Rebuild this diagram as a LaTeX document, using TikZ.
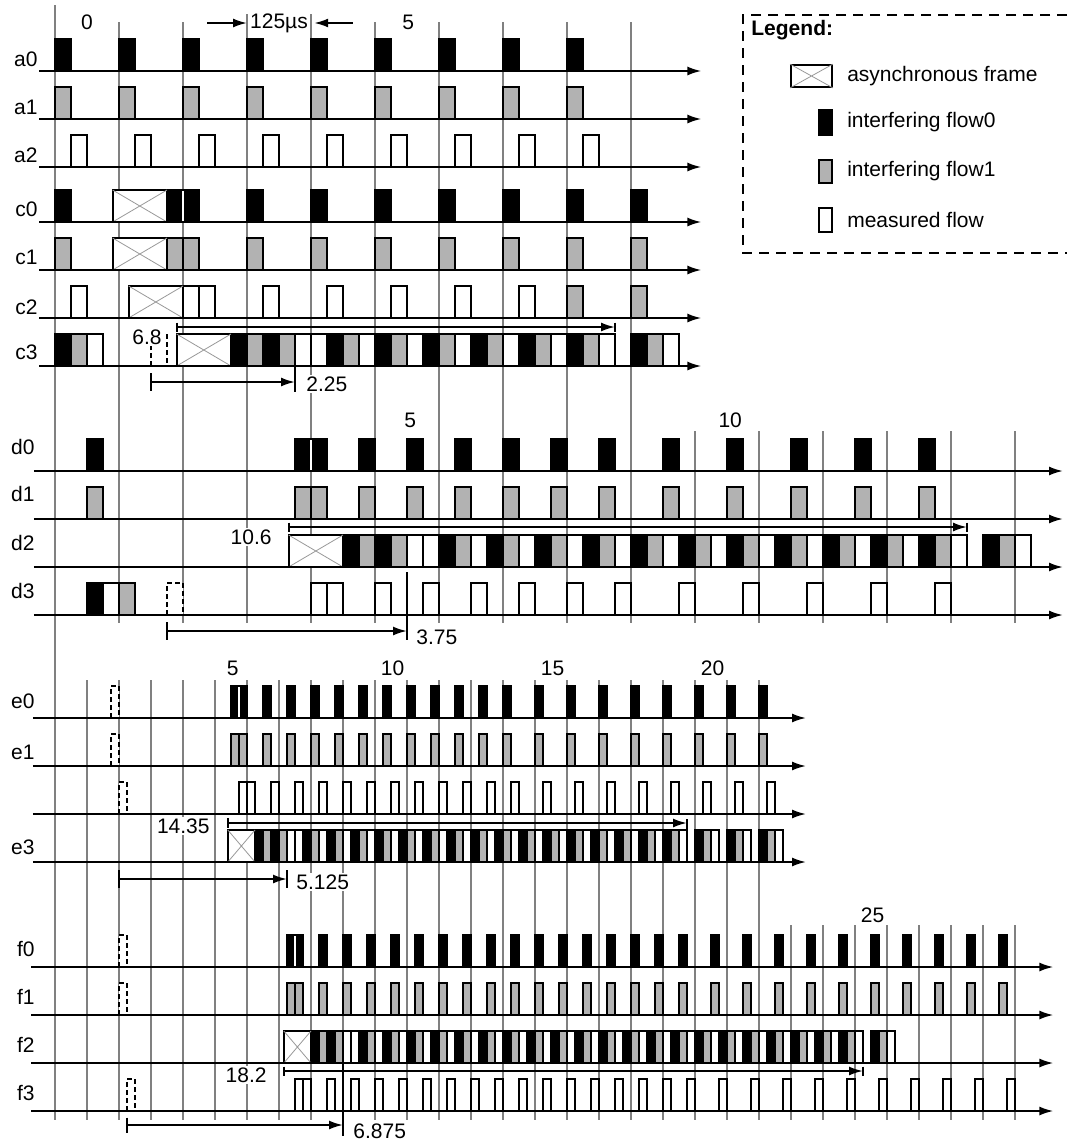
\documentclass[tikz,border=0pt]{standalone}
\usepackage{fontspec}
\setmainfont{Liberation Sans}
\usepackage{tikz}
\usetikzlibrary{arrows.meta,positioning}

\begin{document}
\begin{tikzpicture}[x=0.5pt, y=-0.5pt, font=\fontsize{10.5}{12.6}\selectfont,
    >={Latex[length=7pt,width=4.5pt]},
    grid/.style={draw=black!50, line width=0.8pt},
    axis/.style={->, line width=1pt},
    fzero/.style={draw=black, fill=black, line width=0.9pt},
    fone/.style={draw=black, fill=black!30, line width=0.9pt},
    fmeas/.style={draw=black, fill=white, line width=0.9pt},
    ghost/.style={draw=black, fill=white, line width=0.9pt,
                  dash pattern=on 2.5pt off 1.5pt},
    async/.style={draw=black, fill=white, line width=0.9pt},
    xline/.style={draw=black!40, line width=0.4pt},
    split/.style={draw=white, line width=0.6pt},
    dim/.style={line width=1pt},
    rowlbl/.style={anchor=east, inner sep=0pt},
    numlbl/.style={inner sep=0pt},
    dimlbl/.style={fill=white, inner sep=1pt}]

  \useasboundingbox (0,0) rectangle (1067,1141);

  % cycle 0 runs through all four parts
  \draw[grid] (55,5) -- (55,1120);

  % ---- parts a, c, d: one cycle = 32pt
  \begin{scope}[xshift=27.5pt, x=32pt]
    \foreach \t in {1,2,5,6,...,9} \draw[grid] (\t,22) -- (\t,623);
    \foreach \t in {3,4} \draw[grid] (\t,14) -- (\t,623);
    \foreach \t in {10,...,15} \draw[grid] (\t,431) -- (\t,623);

    % a rows
    \foreach \t in {0,...,8} {
      \draw[fzero] (\t,71) rectangle +(0.25,-32);
      \draw[fone] (\t,119) rectangle +(0.25,-32);
      \draw[fmeas] (\t+0.25,167) rectangle +(0.25,-32);
    }
    % c rows
    \foreach \t in {0,1.75,2,3,...,9} {
      \draw[fzero] (\t,222) rectangle +(0.25,-32);
      \draw[fone] (\t,270) rectangle +(0.25,-32);
    }
    \draw[split] (2,221) -- (2,191);
    \foreach \t in {0.25,2,2.25,3.25,4.25,...,7.25}
      \draw[fmeas] (\t,318) rectangle +(0.25,-32);
    \foreach \t in {8,9} \draw[fone] (\t,318) rectangle +(0.25,-32);
    \draw[fzero] (0,366) rectangle +(0.25,-32);
    \draw[fone] (0.25,366) rectangle +(0.25,-32);
    \draw[fmeas] (0.5,366) rectangle +(0.25,-32);
    \draw[ghost] (1.5,366) rectangle +(0.25,-32);
    \foreach \t in {2.75,3.25} {
      \draw[fzero] (\t,366) rectangle +(0.25,-32);
      \draw[fone] (\t+0.25,366) rectangle +(0.25,-32);
    }
    \foreach \t in {3.75,4} \draw[fmeas] (\t,366) rectangle +(0.25,-32);
    \foreach \t in {4.25,5,...,8,9} {
      \draw[fzero] (\t,366) rectangle +(0.25,-32);
      \draw[fone] (\t+0.25,366) rectangle +(0.25,-32);
      \draw[fmeas] (\t+0.5,366) rectangle +(0.25,-32);
    }

    % d rows
    \foreach \t in {0.5,3.75,4,4.75,5.5,6.25,7,7.75,8.5,9.5,10.5,11.5,12.5,13.5} {
      \draw[fzero] (\t,471) rectangle +(0.25,-32);
      \draw[fone] (\t,519) rectangle +(0.25,-32);
    }
    \draw[split] (4,470) -- (4,440);
    \foreach \t in {4,4.25,5,5.75,6.5,7.25,8,8.75,9.75,10.75,11.75,12.75,13.75}
      \draw[fmeas] (\t,615) rectangle +(0.25,-32);
    \draw[fzero] (0.5,615) rectangle +(0.25,-32);
    \draw[fmeas] (0.75,615) rectangle +(0.25,-32);
    \draw[fone] (1,615) rectangle +(0.25,-32);
    \draw[ghost] (1.75,615) rectangle +(0.25,-32);
    \foreach \t in {4.5,5} {
      \draw[fzero] (\t,567) rectangle +(0.25,-32);
      \draw[fone] (\t+0.25,567) rectangle +(0.25,-32);
    }
    \foreach \t in {5.5,5.75} \draw[fmeas] (\t,567) rectangle +(0.25,-32);
    \foreach \t in {6,6.75,...,13.5,14.5} {
      \draw[fzero] (\t,567) rectangle +(0.25,-32);
      \draw[fone] (\t+0.25,567) rectangle +(0.25,-32);
      \draw[fmeas] (\t+0.5,567) rectangle +(0.25,-32);
    }

    % asynchronous frames
    \foreach \s/\y in {0.9/222, 0.9/270, 1.15/318, 1.9/366, 3.65/567} {
      \draw[async] (\s,\y) rectangle +(0.85,-32);
      \draw[xline] (\s,\y) -- +(0.85,-32) (\s,\y-32) -- +(0.85,32);
    }

    \foreach \y in {71,119,167,222,270,318,366}
      \draw[axis] (-0.25,\y) -- (10.1,\y);
    \foreach \y in {471,519,567,615}
      \draw[axis] (-0.33,\y) -- (15.75,\y);

    % period mark
    \node[numlbl] (per) at (3.5,23) {125µs};
    \coordinate (pl) at (2.38,23); \coordinate (pla) at (3,23);
    \coordinate (pr) at (4.65,23); \coordinate (pra) at (4.05,23);
    \draw[dim,->] (pl) -- (pla);
    \draw[dim,->] (pr) -- (pra);
    \node[numlbl] (na0) at (0.5,22.5) {0};
    \node[numlbl] (na5) at (5.52,22.5) {5};
    \node[numlbl] (nd5) at (5.55,420) {5};
    \node[numlbl] (nd10) at (10.55,420) {10};

    % delays
    \coordinate (c3a) at (1.9,327); \coordinate (c3b) at (8.75,327);
    \draw[dim,->] (c3a) -- (c3b);
    \draw[dim] (c3a) ++(0,-4.5) -- ++(0,9);
    \draw[dim] (c3b) ++(0,-4.5) -- ++(0,9);
    \coordinate (c3c) at (1.5,382); \coordinate (c3d) at (3.75,382);
    \draw[dim,->] (c3c) -- (c3d);
    \draw[dim] (c3c) ++(0,-9) -- ++(0,18);
    \draw[dim] (c3d) ++(0,-16) -- ++(0,26);
    \coordinate (d2a) at (3.65,527); \coordinate (d2b) at (14.25,527);
    \draw[dim,->] (d2a) -- (d2b);
    \draw[dim] (d2a) ++(0,-4.5) -- ++(0,9);
    \draw[dim] (d2b) ++(0,-4.5) -- ++(0,9);
    \coordinate (d3a) at (1.75,631); \coordinate (d3b) at (5.5,631);
    \draw[dim,->] (d3a) -- (d3b);
    \draw[dim] (d3a) ++(0,-9) -- ++(0,18);
    \draw[dim] (d3b) ++(0,-59) -- ++(0,68);
  \end{scope}

  % ---- parts e, f: one cycle = 16pt
  \begin{scope}[xshift=27.5pt, x=16pt]
    \foreach \t in {1,...,22} \draw[grid] (\t,680) -- (\t,1120);
    \foreach \t in {23,...,30} \draw[grid] (\t,925) -- (\t,1120);

    % e rows
    \foreach \t in {5.5,5.75,6.5,7.25,8,8.75,9.5,10.25,11,11.75,12.5,13.25,14,15,16,...,22} {
      \draw[fzero] (\t,718) rectangle +(0.25,-32);
      \draw[fone] (\t,766) rectangle +(0.25,-32);
      \draw[fmeas] (\t+0.25,814) rectangle +(0.25,-32);
    }
    \draw[split] (5.75,717) -- (5.75,687);
    \foreach \t/\y in {1.75/718, 1.75/766, 2/814}
      \draw[ghost] (\t,\y) rectangle +(0.25,-32);
    \foreach \t in {6.25,6.75} {
      \draw[fzero] (\t,862) rectangle +(0.25,-32);
      \draw[fone] (\t+0.25,862) rectangle +(0.25,-32);
    }
    \foreach \t in {7.25,7.5} \draw[fmeas] (\t,862) rectangle +(0.25,-32);
    \foreach \t in {7.75,8.5,...,19,20,21,22} {
      \draw[fzero] (\t,862) rectangle +(0.25,-32);
      \draw[fone] (\t+0.25,862) rectangle +(0.25,-32);
      \draw[fmeas] (\t+0.5,862) rectangle +(0.25,-32);
    }

    % f rows
    \foreach \t in {7.25,7.5,8.25,9,9.75,10.5,11.25,12,12.75,13.5,14.25,15,15.75,
                    16.5,17.25,18,18.75,19.5,20.5,21.5,22.5,23.5,24.5,25.5,26.5,
                    27.5,28.5,29.5} {
      \draw[fzero] (\t,967) rectangle +(0.25,-32);
      \draw[fone] (\t,1015) rectangle +(0.25,-32);
      \draw[fmeas] (\t+0.25,1111) rectangle +(0.25,-32);
    }
    \draw[split] (7.5,966) -- (7.5,936);
    \foreach \t/\y in {2/967, 2/1015, 2.25/1111}
      \draw[ghost] (\t,\y) rectangle +(0.25,-32);
    \foreach \t in {8,8.5} {
      \draw[fzero] (\t,1063) rectangle +(0.25,-32);
      \draw[fone] (\t+0.25,1063) rectangle +(0.25,-32);
    }
    \foreach \t in {9,9.25} \draw[fmeas] (\t,1063) rectangle +(0.25,-32);
    \foreach \t in {9.5,10.25,...,24.5,25.5} {
      \draw[fzero] (\t,1063) rectangle +(0.25,-32);
      \draw[fone] (\t+0.25,1063) rectangle +(0.25,-32);
      \draw[fmeas] (\t+0.5,1063) rectangle +(0.25,-32);
    }

    \foreach \s/\y in {5.4/862, 7.15/1063} {
      \draw[async] (\s,\y) rectangle +(0.85,-32);
      \draw[xline] (\s,\y) -- +(0.85,-32) (\s,\y-32) -- +(0.85,32);
    }

    \foreach \y in {718,766,814,862} \draw[axis] (-0.69,\y) -- (23.47,\y);
    \foreach \y in {967,1015,1063,1111} \draw[axis] (-0.75,\y) -- (31.2,\y);

    \node[numlbl] (ne5) at (5.55,668) {5};
    \node[numlbl] (ne10) at (10.55,668) {10};
    \node[numlbl] (ne15) at (15.55,668) {15};
    \node[numlbl] (ne20) at (20.55,668) {20};
    \node[numlbl] (nf25) at (25.55,915.5) {25};

    % delays
    \coordinate (e3a) at (5.4,823); \coordinate (e3b) at (19.75,823);
    \draw[dim,->] (e3a) -- (e3b);
    \draw[dim] (e3a) ++(0,-5) -- ++(0,10);
    \draw[dim] (e3b) ++(0,-4) -- ++(0,39);
    \coordinate (e2a) at (2,879); \coordinate (e2b) at (7.25,879);
    \draw[dim,->] (e2a) -- (e2b);
    \draw[dim] (e2a) ++(0,-9) -- ++(0,18);
    \draw[dim] (e2b) ++(0,-9) -- ++(0,18);
    \coordinate (f2a) at (7.15,1071); \coordinate (f2b) at (25.25,1071);
    \draw[dim,->] (f2a) -- (f2b);
    \draw[dim] (f2a) ++(0,-4.5) -- ++(0,9);
    \draw[dim] (f2b) ++(0,-4.5) -- ++(0,9);
    \coordinate (f3a) at (2.25,1125); \coordinate (f3b) at (9,1125);
    \draw[dim,->] (f3a) -- (f3b);
    \draw[dim] (f3a) ++(0,-7.5) -- ++(0,15);
    \draw[dim] (f3b) ++(0,-62) -- ++(0,73);
  \end{scope}

  % row names
  \foreach \n/\y in {a0/59, a1/107.5, a2/155, c0/209, c1/257, c2/307, c3/352}
    \node[rowlbl] (l\n) at (38,\y) {\n};
  \foreach \n/\y in {d0/447, d1/494, d2/542.5, d3/591, e0/701, e1/752, e3/847,
                     f0/949, f1/997, f2/1045, f3/1093}
    \node[rowlbl] (l\n) at (35,\y) {\n};

  % delay values
  \node[dimlbl, anchor=east] (v68) at (164,337) {6.8};
  \node[dimlbl, anchor=west] (v225) at (304,384) {2.25};
  \node[dimlbl, anchor=east] (v106) at (274,537) {10.6};
  \node[dimlbl, anchor=west] (v375) at (414,637) {3.75};
  \node[dimlbl, anchor=east] (v1435) at (212,826) {14.35};
  \node[dimlbl, anchor=west] (v5125) at (294,882) {5.125};
  \node[dimlbl, anchor=east] (v182) at (269,1075) {18.2};
  \node[dimlbl, anchor=west] (v6875) at (351,1131) {6.875};

  % legend
  \draw[dim, dash pattern=on 5pt off 3.5pt]
      (1067,15) -- (743,15) -- (743,253) -- (1067,253);
  \node[anchor=west, inner sep=0pt, font=\fontsize{10.5}{12.6}\selectfont\bfseries]
      (lg) at (751,30) {Legend:};
  \node[async, minimum width=20.5pt, minimum height=11pt, inner sep=0pt] (sa) at (811.5,76) {};
  \draw[xline] (sa.north west) -- (sa.south east) (sa.south west) -- (sa.north east);
  \node[fzero, minimum width=6.5pt, minimum height=12.5pt, inner sep=0pt] (sz) at (825.5,122.5) {};
  \node[fone, minimum width=6.5pt, minimum height=11.5pt, inner sep=0pt] (so) at (825.5,171.5) {};
  \node[fmeas, minimum width=6.5pt, minimum height=12pt, inner sep=0pt] (sm) at (825.5,220) {};
  \node[right=7pt of sa, inner sep=0pt] (ta) {asynchronous frame};
  \node[right=7pt of sz, inner sep=0pt] (tz) {interfering flow0};
  \node[right=7pt of so, inner sep=0pt] (to) {interfering flow1};
  \node[right=7pt of sm, inner sep=0pt] (tm) {measured flow};
\end{tikzpicture}
\end{document}
